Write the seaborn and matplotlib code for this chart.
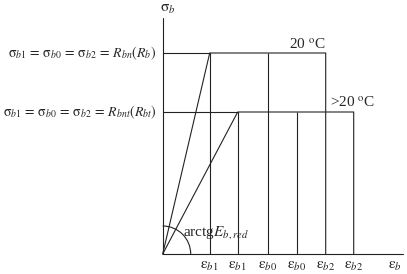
import matplotlib
matplotlib.use("Agg")
import matplotlib.pyplot as plt
import seaborn as sns
import pandas as pd
from matplotlib.patches import Arc

sns.set_theme(style="white")
plt.rcParams['font.family'] = ['Liberation Serif', 'DejaVu Serif']
plt.rcParams['mathtext.fontset'] = 'stix'

# Data (arbitrary strain/stress units)
curves = ["20 °C", ">20 °C"]
sigma_peak = [201, 142]          # R_bn(R_b), R_bnt(R_bt)
eps_b1 = [47, 75]
eps_b0 = [105, 134]
eps_b2 = [163, 191]
tick_pos = [47, 75, 105, 134, 163, 191]
tick_labels = [r'$\mathrm{\varepsilon}_{b1}$', r'$\mathrm{\varepsilon}_{b1}$', r'$\mathrm{\varepsilon}_{b0}$',
               r'$\mathrm{\varepsilon}_{b0}$', r'$\mathrm{\varepsilon}_{b2}$', r'$\mathrm{\varepsilon}_{b2}$']
left_labels = [r'$\mathrm{\sigma}_{b1}\,=\,\mathrm{\sigma}_{b0}\,=\,\mathrm{\sigma}_{b2}\,=\,R_{bn}(R_b)$',
               r'$\mathrm{\sigma}_{b1}\,=\,\mathrm{\sigma}_{b0}\,=\,\mathrm{\sigma}_{b2}\,=\,R_{bnt}(R_{bt})$']
curve_labels = [r'20 $^{\mathrm{o}}$C', r'>20 $^{\mathrm{o}}$C']

rows = []
for c, s, e1, e2 in zip(curves, sigma_peak, eps_b1, eps_b2):
    for x, y in [(0, 0), (e1, s), (e2, s), (e2, 0)]:
        rows.append({"curve": c, "eps": x, "sigma": y})
df = pd.DataFrame(rows)

fig = plt.figure(figsize=(4.07, 2.74), dpi=100)
ax = fig.add_axes([0, 0, 1, 1])
ax.set_xlim(-162.7, 244.3)
ax.set_ylim(-20, 254)
ax.axis('off')

lc = '#222222'
lw = 0.8
sns.lineplot(data=df, x="eps", y="sigma", units="curve", estimator=None,
             sort=False, color=lc, linewidth=lw, ax=ax, legend=False)
# horizontal lines from the stress axis
for s, e1 in zip(sigma_peak, eps_b1):
    ax.plot([0, e1], [s, s], color=lc, lw=lw)
# vertical lines at eps_b1 and eps_b0
for s, e1, e0 in zip(sigma_peak, eps_b1, eps_b0):
    ax.vlines([e1, e0], 0, s, color=lc, lw=lw)

# axes
ax.plot([0, 0], [0, 236], color=lc, lw=lw)
ax.plot([0, 240], [0, 0], color=lc, lw=lw)
ax.add_patch(Arc((0, 0), 56, 56, theta1=0, theta2=90, color=lc, lw=lw))

fs = 11
ax.text(5, 245, r'$\mathrm{\sigma}_b$', ha='center', va='center', fontsize=fs)
ax.text(232, -12, r'$\mathrm{\varepsilon}_b$', ha='center', va='center', fontsize=fs)
for p, l in zip(tick_pos, tick_labels):
    ax.text(p, -12, l, ha='center', va='center', fontsize=fs)
for s, l in zip(sigma_peak, left_labels):
    ax.text(-6, s, l, ha='right', va='center', fontsize=10)
ax.text(163, 209, curve_labels[0], ha='right', va='center', fontsize=fs)
ax.text(167, 151, curve_labels[1], ha='left', va='center', fontsize=fs)
ax.text(20, 21, r'arctg$E_{b,red}$', ha='left', va='center', fontsize=fs)

fig.savefig("out.png", dpi=100, facecolor='white')
